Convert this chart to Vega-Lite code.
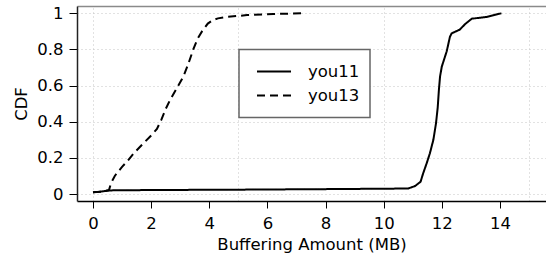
{
  "$schema": "https://vega.github.io/schema/vega-lite/v6.json",
  "autosize": "none",
  "padding": {"left": 77, "top": 6, "right": 0, "bottom": 63},
  "width": 469,
  "height": 195,
  "background": "white",
  "config": {
    "view": {"stroke": null},
    "legend": {"strokeWidth": 1.5},
    "axis": {
      "labelFont": "DejaVu Sans",
      "titleFont": "DejaVu Sans",
      "labelColor": "black",
      "titleColor": "black",
      "titleFontWeight": "normal",
      "labelFontSize": 16.5,
      "titleFontSize": 16.5,
      "labelOverlap": false,
      "labelFlush": false,
      "labelBound": false,
      "tickColor": "black",
      "domainColor": "black",
      "gridColor": "#c4c4c4",
      "gridDash": [1, 3],
      "gridWidth": 1
    }
  },
  "datasets": {
    "you11": [
      {"series": "you11", "x": 0, "y": 0.01},
      {"series": "you11", "x": 0.2, "y": 0.012},
      {"series": "you11", "x": 0.4, "y": 0.016},
      {"series": "you11", "x": 0.58, "y": 0.02},
      {"series": "you11", "x": 2, "y": 0.022},
      {"series": "you11", "x": 5, "y": 0.024},
      {"series": "you11", "x": 8, "y": 0.027},
      {"series": "you11", "x": 10.56, "y": 0.03},
      {"series": "you11", "x": 10.85, "y": 0.031},
      {"series": "you11", "x": 11.08, "y": 0.044},
      {"series": "you11", "x": 11.27, "y": 0.068},
      {"series": "you11", "x": 11.36, "y": 0.115},
      {"series": "you11", "x": 11.48, "y": 0.17},
      {"series": "you11", "x": 11.59, "y": 0.225},
      {"series": "you11", "x": 11.71, "y": 0.3},
      {"series": "you11", "x": 11.8, "y": 0.39},
      {"series": "you11", "x": 11.86, "y": 0.48},
      {"series": "you11", "x": 11.9, "y": 0.575},
      {"series": "you11", "x": 11.94, "y": 0.65},
      {"series": "you11", "x": 12.0, "y": 0.705},
      {"series": "you11", "x": 12.07, "y": 0.74},
      {"series": "you11", "x": 12.17, "y": 0.79},
      {"series": "you11", "x": 12.28, "y": 0.87},
      {"series": "you11", "x": 12.34, "y": 0.889},
      {"series": "you11", "x": 12.62, "y": 0.91},
      {"series": "you11", "x": 12.8, "y": 0.94},
      {"series": "you11", "x": 13.03, "y": 0.97},
      {"series": "you11", "x": 13.54, "y": 0.98},
      {"series": "you11", "x": 14.05, "y": 1.0}
    ],
    "you13": [
      {"series": "you13", "x": 0, "y": 0.01},
      {"series": "you13", "x": 0.3, "y": 0.013},
      {"series": "you13", "x": 0.55, "y": 0.022},
      {"series": "you13", "x": 0.62, "y": 0.06},
      {"series": "you13", "x": 0.75, "y": 0.1},
      {"series": "you13", "x": 1.0, "y": 0.15},
      {"series": "you13", "x": 1.2, "y": 0.185},
      {"series": "you13", "x": 1.4, "y": 0.225},
      {"series": "you13", "x": 1.67, "y": 0.27},
      {"series": "you13", "x": 2.02, "y": 0.327},
      {"series": "you13", "x": 2.2, "y": 0.36},
      {"series": "you13", "x": 2.35, "y": 0.41},
      {"series": "you13", "x": 2.5, "y": 0.47},
      {"series": "you13", "x": 2.65, "y": 0.52},
      {"series": "you13", "x": 2.88, "y": 0.585},
      {"series": "you13", "x": 3.11, "y": 0.65},
      {"series": "you13", "x": 3.28, "y": 0.72},
      {"series": "you13", "x": 3.45, "y": 0.8},
      {"series": "you13", "x": 3.6, "y": 0.86},
      {"series": "you13", "x": 3.75, "y": 0.9},
      {"series": "you13", "x": 3.95, "y": 0.943},
      {"series": "you13", "x": 4.12, "y": 0.962},
      {"series": "you13", "x": 4.3, "y": 0.972},
      {"series": "you13", "x": 4.6, "y": 0.98},
      {"series": "you13", "x": 5.3, "y": 0.99},
      {"series": "you13", "x": 6.2, "y": 0.996},
      {"series": "you13", "x": 7.18, "y": 1.0}
    ]
  },
  "encoding": {
    "y": {
      "field": "y", "type": "quantitative",
      "scale": {"domain": [-0.0387, 1.0404], "nice": false, "zero": false},
      "axis": {
        "values": [0, 0.2, 0.4, 0.6, 0.8, 1],
        "format": "~g",
        "grid": true,
        "tickSize": 8,
        "labelPadding": 6,
        "domainWidth": 1.5,
        "domainColor": "#222",
        "title": "CDF",
        "titlePadding": 7
      }
    },
    "strokeDash": {
      "field": "series", "type": "nominal",
      "scale": {"domain": ["you11", "you13"], "range": [[1, 0], [8, 5]]},
      "legend": {
        "orient": "none",
        "legendX": 162,
        "legendY": 43.5,
        "title": null,
        "symbolType": "stroke",
        "symbolSize": 1156,
        "symbolStrokeWidth": 2,
        "symbolStrokeColor": "black",
        "clipHeight": 24,
        "rowPadding": 0,
        "padding": 10,
        "symbolOffset": 7,
        "labelOffset": 16,
        "labelFont": "DejaVu Sans",
        "labelFontSize": 16.5,
        "labelColor": "black",
        "strokeColor": "#666",
        "fillColor": "white"
      }
    }
  },
  "layer": [
    {
      "data": {"name": "you11"},
      "mark": {"type": "line", "color": "black", "strokeWidth": 2},
      "encoding": {
        "x": {
          "field": "x", "type": "quantitative",
          "scale": {"domain": [-0.55, 15.585], "nice": false, "zero": false},
          "axis": {
            "orient": "bottom",
            "values": [0, 2, 4, 6, 8, 10, 12, 14],
            "grid": false,
            "tickSize": 7,
            "labelPadding": 7,
            "domainWidth": 1.5,
            "title": "Buffering Amount (MB)",
            "titlePadding": 5
          }
        }
      }
    },
    {
      "data": {"name": "you13"},
      "mark": {"type": "line", "color": "black", "strokeWidth": 2},
      "encoding": {
        "x": {
          "field": "x", "type": "quantitative",
          "axis": {
            "orient": "top",
            "values": [0, 5, 10, 15],
            "grid": true,
            "ticks": false,
            "labels": false,
            "domainColor": "#8a8a8a",
            "domainWidth": 1.5,
            "title": null
          }
        }
      }
    }
  ],
  "resolve": {"axis": {"x": "independent"}}
}
